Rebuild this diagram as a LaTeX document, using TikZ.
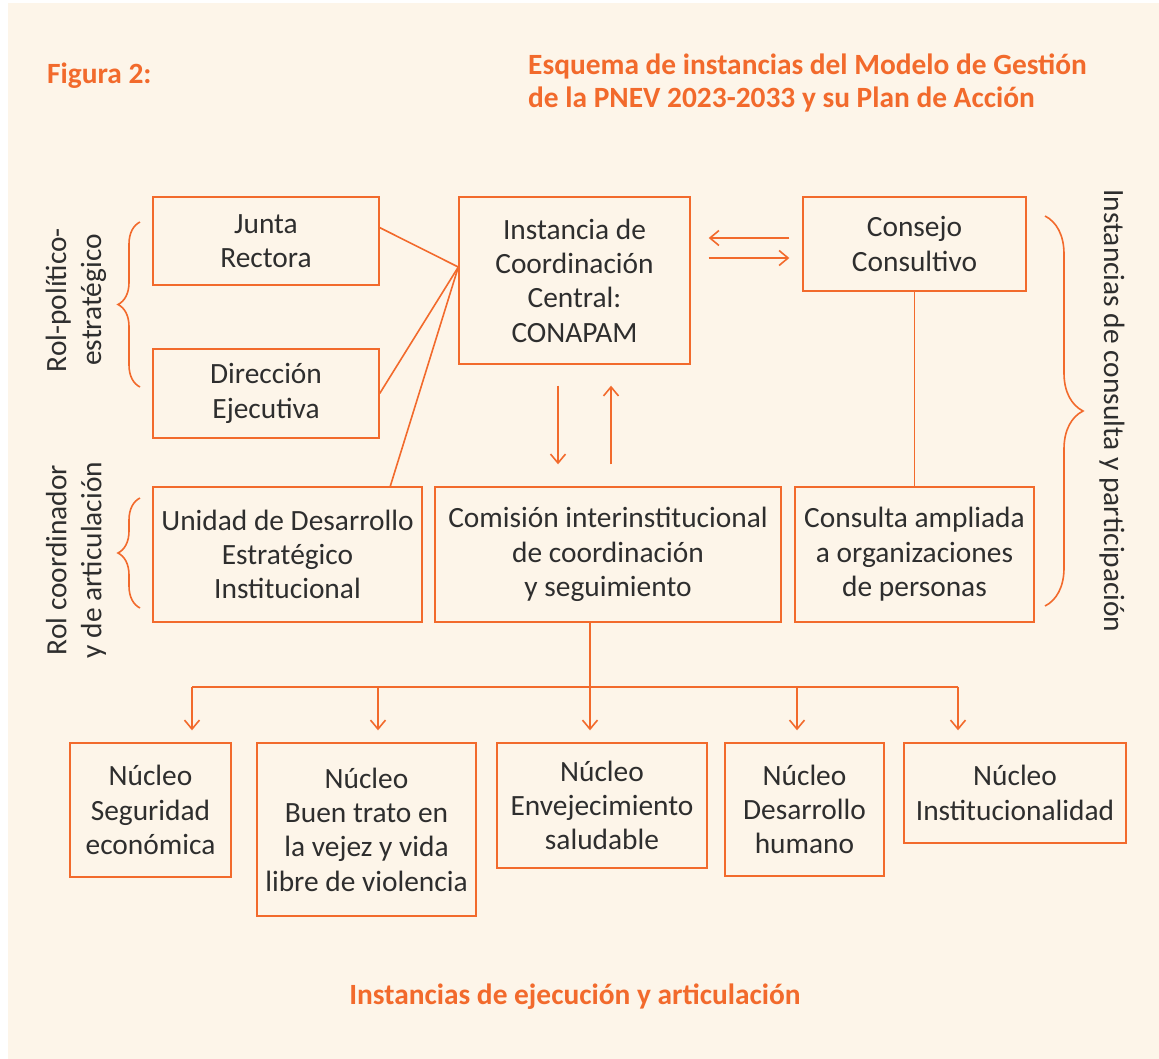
\documentclass[tikz,border=0pt]{standalone}
\usepackage{fontspec}
\setmainfont{Carlito}
\usetikzlibrary{calc,arrows.meta,decorations.pathreplacing}
\definecolor{naranja}{HTML}{F26A2C}
\definecolor{crema}{HTML}{FDF5E9}
\definecolor{texto}{HTML}{2E2E2E}

\begin{document}
\begin{tikzpicture}[x=1bp, y=-1bp,
  caja/.style={draw=naranja, line width=1.4bp, fill=crema, text=texto, align=center,
    inner sep=0pt, font=\fontsize{29.5}{34.5}\selectfont},
  linea/.style={draw=naranja, line width=1.6bp},
  flecha/.style={linea, -{Straight Barb[length=9bp,width=15bp]}},
  llave/.style={linea, decorate, decoration={brace, amplitude=#1}},
  titulo/.style={text=naranja, font=\fontsize{29.5}{33}\selectfont\bfseries, inner sep=0pt},
  rol/.style={text=texto, font=\fontsize{29.5}{35}\selectfont, align=center, inner sep=0pt}]
\useasboundingbox (0,0) rectangle (1159,1059);
\fill[crema] (8,3) rectangle (1159,1059);
% titles
\node[titulo, anchor=west] (fig) at (47,76) {Figura 2:};
\node[titulo, anchor=west, align=left] (tit) at (528,83) {Esquema de instancias del Modelo de Gestión\\de la PNEV 2023-2033 y su Plan de Acción};
\node[titulo] (pie) at (575,997) {Instancias de ejecución y articulación};
% upper boxes
\node[caja, minimum width=226bp, minimum height=88bp] (jr) at (266,241) {Junta\\Rectora};
\node[caja, minimum width=226bp, minimum height=89bp] (de) at (266,393.5) {Dirección\\Ejecutiva};
\node[caja, minimum width=231bp, minimum height=167bp] (icc) at (574.5,280.5) {Instancia de\\Coordinación\\Central:\\CONAPAM};
\node[caja, minimum width=223bp, minimum height=94bp] (cc) at (914.5,244) {Consejo\\Consultivo};
% middle row
\node[caja, minimum width=269bp, minimum height=135bp] (ude) at (287.5,554.5) {Unidad de Desarrollo\\Estratégico\\Institucional};
\node[caja, minimum width=346bp, minimum height=135bp] (cic) at (608,554.5) {Comisión interinstitucional\\de coordinación\\y seguimiento};
\node[caja, minimum width=239bp, minimum height=135bp] (cap) at (914.5,554.5) {Consulta ampliada\\a organizaciones\\de personas};
% nucleos
\node[caja, minimum width=161bp, minimum height=134bp] (n1) at (150.5,810) {Núcleo\\Seguridad\\económica};
\node[caja, minimum width=219bp, minimum height=173bp] (n2) at (366.5,829.5) {Núcleo\\Buen trato en\\la vejez y vida\\libre de violencia};
\node[caja, minimum width=210bp, minimum height=125bp] (n3) at (602,805.5) {Núcleo\\Envejecimiento\\saludable};
\node[caja, minimum width=159bp, minimum height=133bp] (n4) at (804.5,809.5) {Núcleo\\Desarrollo\\humano};
\node[caja, minimum width=222bp, minimum height=100bp] (n5) at (1015,793) {Núcleo\\Institucionalidad};
% side labels
\node[rol, rotate=90] (rpe) at (76,300) {Rol-político-\\estratégico};
\node[rol, rotate=90] (rca) at (76,560) {Rol coordinador\\y de articulación};
\node[rol, rotate=-90] (icp) at (1112,411) {Instancias de consulta y participación};
% lines into the central body
\coordinate (ic) at ($(icc.north west)!.42!(icc.south west)$);
\draw[linea] ($(jr.north east)!.35!(jr.south east)$) -- (ic);
\draw[linea] (de.east) -- (ic);
\draw[linea] ($(ude.north west)!.88!(ude.north east)$) -- (ic);
% arrows to and from the council
\draw[flecha, shorten <=13bp, shorten >=18bp] ($(cc.west)+(0,-6)$) -- ($(icc.east |- cc.west)+(0,-6)$);
\draw[flecha, shorten <=18bp, shorten >=13bp] ($(icc.east |- cc.west)+(0,14)$) -- ($(cc.west)+(0,14)$);
\draw[linea] (cc.south) -- (cap.north);
% arrows to and from the commission
\draw[flecha, shorten <=21bp, shorten >=22bp] ($(icc.south)+(-16.5,0)$) -- ($(icc.south |- cic.north)+(-16.5,0)$);
\draw[flecha, shorten <=22bp, shorten >=21bp] ($(icc.south |- cic.north)+(36.5,0)$) -- ($(icc.south)+(36.5,0)$);
% branches to the nucleos
\coordinate (rama) at ($(cic.south)+(-18,64)$);
\draw[linea] ($(cic.south)+(-18,0)$) -- (rama);
\draw[linea] ($(n1.north |- rama)+(41.5,0)$) -- ($(n5.north |- rama)+(-57,0)$);
\foreach \n/\d in {n1/41.5, n2/11.5, n3/-12, n4/-7.5, n5/-57}
  \draw[flecha, shorten >=12bp] ($(\n.north |- rama)+(\d,0)$) -- ($(\n.north)+(\d,0)$);
% braces
\draw[llave=22bp] (140,387) -- (140,222);
\draw[llave=22bp] (140,608) -- (140,498);
\draw[llave=38bp] (1045,216) -- (1045,606);
\end{tikzpicture}
\end{document}
